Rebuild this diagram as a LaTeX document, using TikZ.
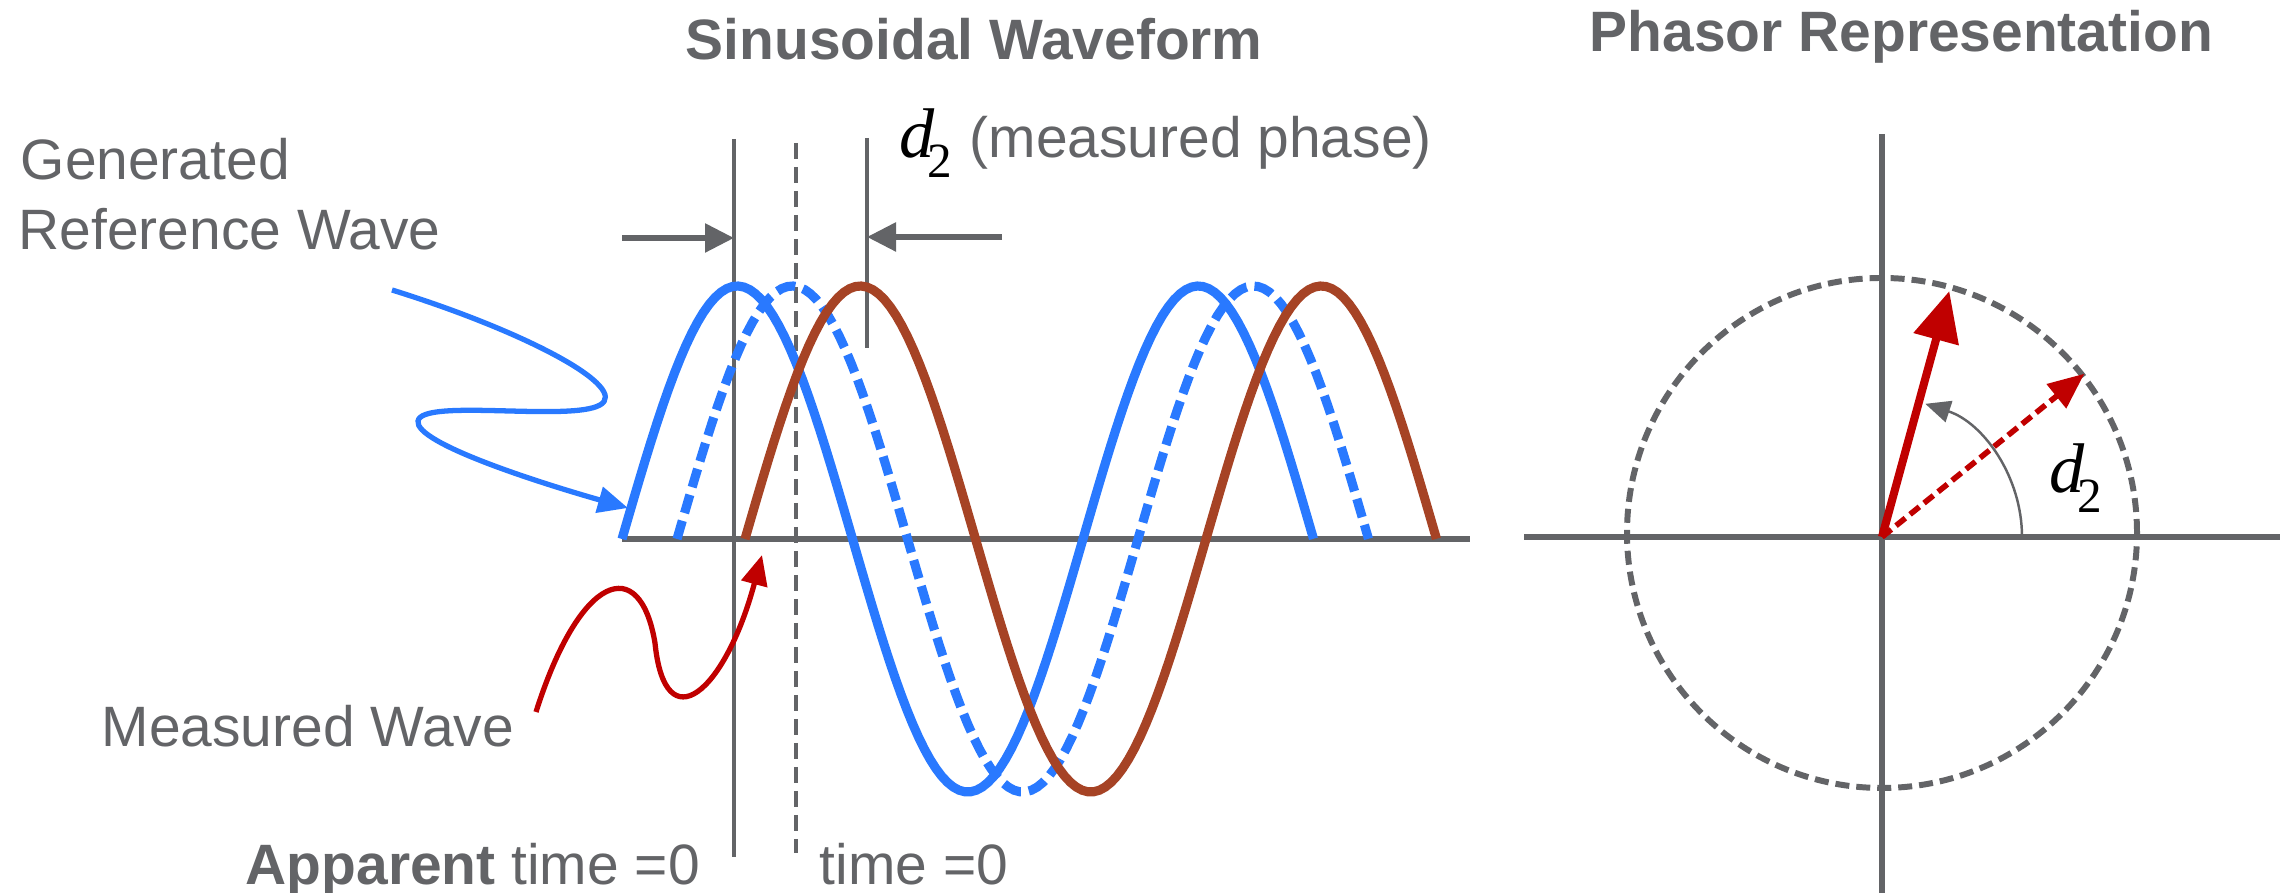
\documentclass[tikz,border=0pt]{standalone}
\usepackage{fontspec}
\setmainfont{Liberation Sans}
\newfontfamily\timesfont{Liberation Serif}
\usetikzlibrary{arrows.meta}
\definecolor{linegray}{RGB}{99,100,103}
\definecolor{refblue}{RGB}{41,121,255}
\definecolor{measbrown}{RGB}{166,67,37}
\definecolor{phasered}{RGB}{192,0,0}
\newcommand{\dtwo}{{\timesfont\fontsize{20}{20}\selectfont\itshape d}\kern-0.07cm\raisebox{-0.2cm}{\timesfont\fontsize{14}{14}\selectfont 2}}
\tikzset{
  lbl/.style={anchor=base west, inner sep=0, text=linegray, font=\fontsize{16.2}{19}\selectfont},
  ttl/.style={lbl, font=\fontsize{16.2}{19}\selectfont\bfseries},
  axisline/.style={linegray, line width=1.8pt},
  marker/.style={linegray, line width=1.3pt},
  wave/.style={line width=2.6pt},
  dashwave/.style={wave, dash pattern=on 0.19cm off 0.08cm},
  pointer/.style={line width=1.5pt, -{Triangle[length=0.3cm, width=0.26cm]}}
}
\begin{document}
\begin{tikzpicture}
    \useasboundingbox (0,0) rectangle (22.8,8.93);
    % titles
    \node[ttl] (sinTitle) at (6.85,8.33) {Sinusoidal Waveform};
    \node[ttl] (phTitle) at (15.89,8.41) {Phasor Representation};

    % waveform axis and time markers
    \draw[axisline] (6.22,3.54) -- (14.70,3.54);
    \coordinate (appTop) at (7.34,7.54);
    \coordinate (appBot) at (7.34,0.36);
    \coordinate (zeroTop) at (7.96,7.50);
    \coordinate (zeroBot) at (7.96,0.40);
    \coordinate (measTop) at (8.67,7.55);
    \coordinate (measBot) at (8.67,5.45);
    \draw[marker] (appTop) -- (appBot);
    \draw[marker, dash pattern=on 0.16cm off 0.08cm] (zeroTop) -- (zeroBot);
    \draw[marker] (measTop) -- (measBot);

    % the three waves
    \draw[wave, refblue] plot[domain=0:6.915, samples=120] ({6.22+\x},{3.54+2.53*sin(78.09*\x)});
    \draw[dashwave, refblue] plot[domain=0:6.915, samples=120] ({6.77+\x},{3.54+2.53*sin(78.09*\x)});
    \draw[wave, measbrown] plot[domain=0:6.915, samples=120] ({7.45+\x},{3.54+2.53*sin(78.09*\x)});

    % d2 arrows
    \coordinate (leftTail) at (6.22,6.55);
    \coordinate (rightTail) at (10.02,6.56);
    \draw[linegray, line width=1.6pt, -{Triangle[length=0.29cm, width=0.28cm]}] (leftTail) -- (appTop |- leftTail);
    \draw[linegray, line width=1.6pt, -{Triangle[length=0.29cm, width=0.28cm]}] (rightTail) -- (measTop |- rightTail);
    \node[lbl, text=black] (dLeft) at (8.99,7.35) {\dtwo};
    \node[lbl] (dNote) at (9.69,7.35) {(measured phase)};

    % labels and pointers
    \node[lbl] (genText) at (0.20,7.13) {Generated};
    \node[lbl] (refText) at (0.18,6.43) {Reference Wave};
    \node[lbl] (measText) at (1.01,1.46) {Measured Wave};
    \node[lbl] (appText) at (2.45,0.08) {\textbf{Apparent} time =0};
    \node[lbl] (zeroText) at (8.19,0.08) {time =0};
    \coordinate (refStart) at (3.92,6.03);
    \coordinate (refTip) at (6.28,3.85);
    \draw[pointer, refblue] (refStart) .. controls (5.3,5.6) and (6.3,5.05) .. (6.0,4.88)
        .. controls (5.7,4.71) and (4.22,4.95) .. (4.18,4.72)
        .. controls (4.14,4.5) and (5.4,4.1) .. (refTip);
    \coordinate (measStart) at (5.36,1.81);
    \coordinate (measTip) at (7.62,3.38);
    \draw[pointer, phasered] (measStart) .. controls (5.8,3.2) and (6.4,3.4) .. (6.55,2.5)
        .. controls (6.65,1.5) and (7.25,2.0) .. (measTip);

    % phasor diagram
    \coordinate (O) at (18.82,3.56);
    \draw[linegray, line width=1.6pt] (15.24,3.56) -- (22.80,3.56);
    \draw[linegray, line width=1.6pt] (18.82,7.59) -- (18.82,0);
    \draw[linegray, line width=1.7pt, dash pattern=on 0.14cm off 0.07cm] ([yshift=0.04cm]O) circle (2.55);
    \path (O) ++(74.7:2.55) coordinate (measPh);
    \path (O) ++(38.9:2.60) coordinate (refPh);
    \draw[phasered, line width=2.3pt, -{Triangle[length=0.5cm, width=0.45cm]}] (O) -- (measPh);
    \draw[phasered, line width=1.6pt, dash pattern=on 0.12cm off 0.06cm, -{Triangle[length=0.36cm, width=0.3cm]}] (O) -- (refPh);
    \draw[linegray, line width=0.7pt, -{Triangle[length=0.25cm, width=0.22cm]}] ([shift={(0:1.40)}]O) arc[start angle=0, end angle=72, radius=1.40];
    \node[lbl, text=black] (dRight) at (20.49,4.00) {\dtwo};
\end{tikzpicture}
\end{document}
